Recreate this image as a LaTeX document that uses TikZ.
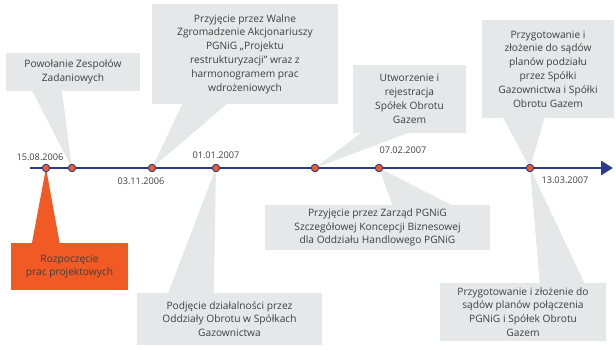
\documentclass[tikz,border=0pt]{standalone}
\usepackage{fontspec}
\setmainfont{Open Sans}
\usetikzlibrary{arrows.meta,calc}
\definecolor{lineblue}{HTML}{2B3990}
\definecolor{dotorange}{HTML}{F15A29}
\definecolor{boxgray}{HTML}{E6E7E8}
\definecolor{boxorange}{HTML}{F15A24}
\definecolor{txt}{HTML}{3F3F3F}
\begin{document}
\begin{tikzpicture}[x=1pt,y=-1pt,
  box/.style={fill=boxgray,text=txt,align=center,inner sep=0pt,font=\fontsize{10.2}{13.8}\selectfont},
  obox/.style={box,fill=boxorange},
  wedge/.style={fill=boxgray},
  owedge/.style={fill=boxorange},
  dot/.style={circle,fill=dotorange,draw=lineblue,line width=0.9pt,inner sep=0pt,minimum size=7.5pt},
  date/.style={text=txt,font=\fontsize{9.2}{10}\selectfont,inner sep=0pt}]
\useasboundingbox (0,0) rectangle (616,349);
% boxes
\node[box,minimum width=134pt,minimum height=38pt] (b1) at (73,72) {Powołanie Zespołów\\Zadaniowych};
\node[box,minimum width=186pt,minimum height=100pt] (b2) at (245,54) {Przyjęcie przez Walne\\Zgromadzenie Akcjonariuszy\\PGNiG „Projektu\\restrukturyzacji” wraz z\\harmonogramem prac\\wdrożeniowych};
\node[box,minimum width=113pt,minimum height=68pt] (b3) at (409.5,99) {Utworzenie i\\rejestracja\\Spółek Obrotu\\Gazem};
\node[box,minimum width=132pt,minimum height=98pt] (b4) at (548,69) {Przygotowanie i\\złożenie do sądów\\planów podziału\\przez Spółki\\Gazownictwa i Spółki\\Obrotu Gazem};
\node[box,minimum width=225pt,minimum height=45pt] (b5) at (377.5,227.5) {Przyjęcie przez Zarząd PGNiG\\Szczegółowej Koncepcji Biznesowej\\dla Oddziału Handlowego PGNiG};
\node[box,minimum width=166pt,minimum height=58pt] (b6) at (523,312) {Przygotowanie i złożenie do\\sądów planów połączenia\\PGNiG i Spółek Obrotu\\Gazem};
\node[box,minimum width=185pt,minimum height=52pt] (b7) at (229.5,319) {Podjęcie działalności przez\\Oddziały Obrotu w Spółkach\\Gazownictwa};
\node[obox,minimum width=117pt,minimum height=47pt] (b8) at (69.5,266.5) {Rozpoczęcie\\prac projektowych};
% dots positions
\coordinate (d1) at (46,168);
\coordinate (d2) at (72,168);
\coordinate (d3) at (152,168);
\coordinate (d4) at (216,168);
\coordinate (d5) at (315,168);
\coordinate (d6) at (379,168);
\coordinate (d7) at (530,168);
\coordinate (start) at (30,168);
\coordinate (end) at (613,168);
% wedges
\fill[wedge] (d2) -- ([xshift=26pt,yshift=1pt]b1.south west) -- ([xshift=56pt,yshift=1pt]b1.south west) -- cycle;
\fill[wedge] (d3) -- ([xshift=31pt,yshift=1pt]b2.south west) -- ([xshift=76pt,yshift=1pt]b2.south west) -- cycle;
\fill[wedge] (d5) -- ([xshift=9pt,yshift=1pt]b3.south west) -- ([xshift=57pt,yshift=1pt]b3.south west) -- cycle;
\fill[wedge] (d7) -- ([xshift=21pt,yshift=1pt]b4.south west) -- ([xshift=63pt,yshift=1pt]b4.south west) -- cycle;
\fill[wedge] (d6) -- ([xshift=128pt,yshift=-1pt]b5.north west) -- ([xshift=188pt,yshift=-1pt]b5.north west) -- cycle;
\fill[wedge] (d7) -- ([xshift=100pt,yshift=-1pt]b6.north west) -- ([xshift=145pt,yshift=-1pt]b6.north west) -- cycle;
\fill[wedge] (d4) -- ([xshift=31pt,yshift=-1pt]b7.north west) -- ([xshift=77pt,yshift=-1pt]b7.north west) -- cycle;
\fill[owedge] (d1) -- ([xshift=21pt,yshift=-1pt]b8.north west) -- ([xshift=49pt,yshift=-1pt]b8.north west) -- cycle;
% timeline
\draw[lineblue,line width=2.6pt,-{Triangle[length=12pt,width=14pt]}] (start) -- (end);
\foreach \d in {d1,d2,d3,d4,d5,d6,d7} \node[dot] (n\d) at (\d) {};
% dates
\node[date] (t1) at (40,157) {15.08.2006};
\node[date] (t2) at (141,181) {03.11.2006};
\node[date] (t3) at (216,155) {01.01.2007};
\node[date] (t4) at (403,150) {07.02.2007};
\node[date] (t5) at (565,180) {13.03.2007};
\end{tikzpicture}
\end{document}
